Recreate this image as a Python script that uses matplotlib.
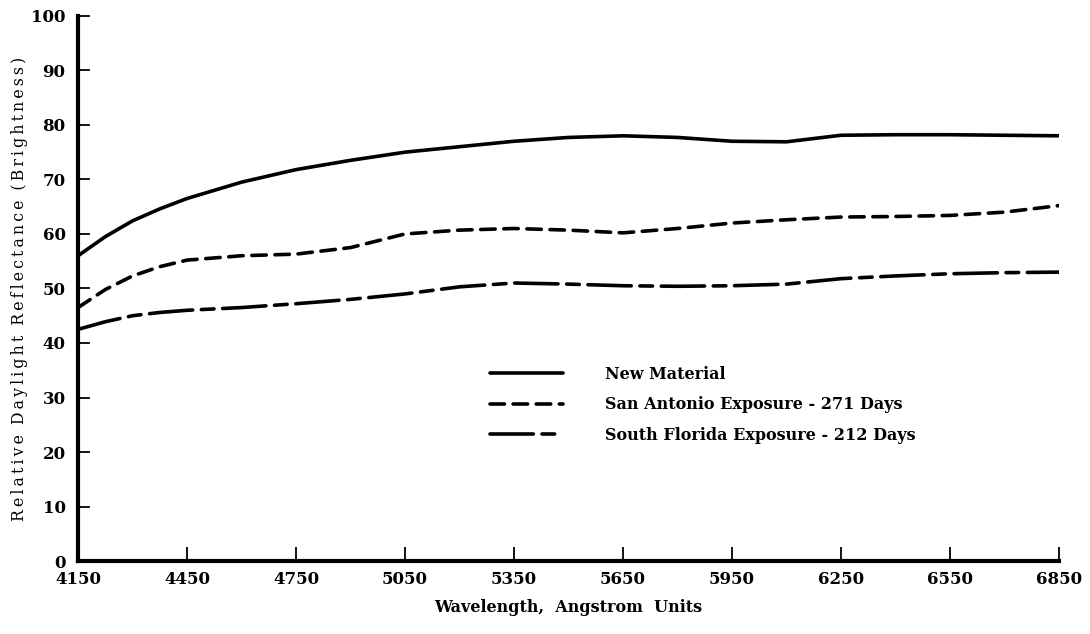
import matplotlib
matplotlib.use("Agg")
import matplotlib.pyplot as plt

# wavelength, angstrom
wavelength = [4150, 4225, 4300, 4375, 4450, 4600, 4750, 4900, 5050, 5200, 5350, 5500,
              5650, 5800, 5950, 6100, 6250, 6400, 6550, 6700, 6850]

# relative daylight reflectance
new_material = [56.0, 59.5, 62.4, 64.6, 66.5, 69.5, 71.8, 73.5, 75.0, 76.0, 77.0, 77.7,
                78.0, 77.7, 77.0, 76.9, 78.1, 78.2, 78.2, 78.1, 78.0]
san_antonio = [46.5, 49.8, 52.3, 54.0, 55.2, 56.0, 56.3, 57.5, 60.0, 60.7, 61.0, 60.7,
               60.2, 61.0, 62.0, 62.6, 63.1, 63.2, 63.4, 64.0, 65.2]
south_florida = [42.5, 43.9, 45.0, 45.6, 46.0, 46.5, 47.2, 48.0, 49.0, 50.3, 51.0, 50.8,
                 50.5, 50.4, 50.5, 50.8, 51.8, 52.3, 52.7, 52.9, 53.0]

labels = ["New Material",
          "San Antonio Exposure - 271 Days",
          "South Florida Exposure - 212 Days"]

xticks = list(range(4150, 6851, 300))
yticks = list(range(0, 101, 10))

plt.rcParams['font.family'] = ['DejaVu Serif']

fig = plt.figure(figsize=(10.9, 6.34), dpi=100)
ax = fig.add_axes([0.0716, 0.115, 0.9, 0.86])

ax.plot(wavelength, new_material, color='black', lw=2.6, label=labels[0],
        solid_capstyle='round', solid_joinstyle='round')
ax.plot(wavelength, san_antonio, color='black', lw=2.6, label=labels[1],
        linestyle=(0, (4, 2.4)), dash_capstyle='round')
ax.plot(wavelength, south_florida, color='black', lw=2.6, label=labels[2],
        linestyle=(0, (12, 2.4, 3.5, 2.4)), dash_capstyle='round')

ax.set_xlim(4150, 6850)
ax.set_ylim(0, 100)
ax.set_xticks(xticks)
ax.set_yticks(yticks)
ax.tick_params(direction='in', length=10, width=1.3, labelsize=12, pad=7)
ax.tick_params(axis='y', direction='out', length=0, pad=9)
for t in ax.get_xticklabels() + ax.get_yticklabels():
    t.set_fontweight('bold')

# y ticks are drawn on the inside of the spine
for y in yticks:
    ax.plot([4150, 4150 + 30], [y, y], color='black', lw=1.3, clip_on=False)

for s in ['top', 'right']:
    ax.spines[s].set_visible(False)
ax.spines['left'].set_linewidth(3)
ax.spines['bottom'].set_linewidth(3)

ax.set_xlabel("Wavelength,  Angstrom  Units", fontsize=11.5, fontweight='bold',
              labelpad=8)
ylab = "  ".join("\u2009".join(w) for w in
                 "Relative Daylight Reflectance (Brightness)".split())
ax.set_ylabel(ylab, fontsize=11.3, labelpad=2)

leg = ax.legend(loc='upper left', bbox_to_anchor=(0.405, 0.385), frameon=False,
                handlelength=4.6, handletextpad=2.6, labelspacing=0.85,
                prop={'size': 11.5, 'weight': 'bold'})

fig.savefig("out.png", dpi=100)
